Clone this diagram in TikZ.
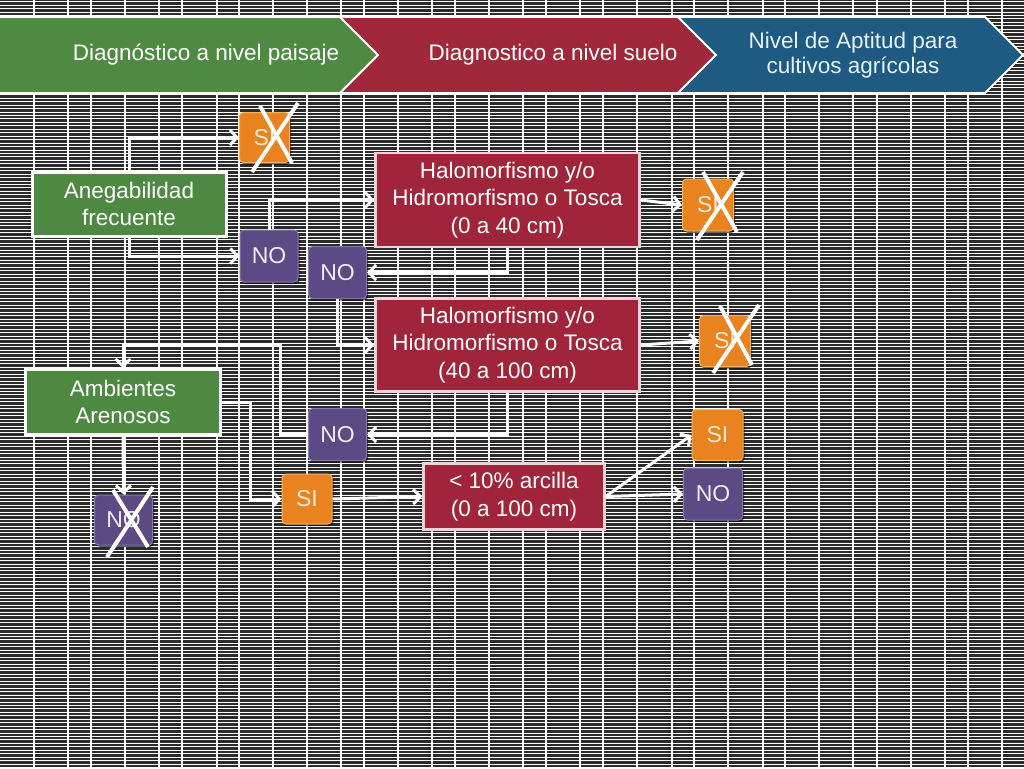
\documentclass[tikz,border=0pt]{standalone}
\usepackage{fontspec}
\setmainfont{Liberation Sans}
\usetikzlibrary{arrows.meta,shadows,calc}
\definecolor{bg}{HTML}{2C2C2C}
\definecolor{hgreen}{HTML}{4F8A43}
\definecolor{hred}{HTML}{A1283A}
\definecolor{hblue}{HTML}{1F5A82}
\definecolor{boxgreen}{HTML}{4E8942}
\definecolor{boxred}{HTML}{A0253A}
\definecolor{redrim}{HTML}{F0D2D8}
\definecolor{orangec}{HTML}{E8831F}
\definecolor{orangerim}{HTML}{F6B35A}
\definecolor{purplec}{HTML}{5C4A85}
\definecolor{purplerim}{HTML}{8A76B2}
\definecolor{sitext}{HTML}{FDEBD6}
\definecolor{notext}{HTML}{F4EAF6}
\definecolor{bluetext}{HTML}{E6F2FF}
\tikzset{
  conn/.style={draw=white, line width=3pt, -{Straight Barb[length=7pt,width=15pt]}},
  bigbox/.style={rectangle, align=center, text=white, inner sep=0pt,
    font=\fontsize{22.5}{27.5}\selectfont},
  greenbox/.style={bigbox, fill=boxgreen, draw=white, line width=3pt},
  redbox/.style={bigbox, fill=boxred, draw=redrim, line width=2.5pt},
  smallbox/.style={rectangle, rounded corners=4pt, inner sep=0pt,
    font=\fontsize{23}{26}\selectfont,
    drop shadow={shadow xshift=1.5pt, shadow yshift=-2pt, fill=black, opacity=0.6}},
  sibox/.style={smallbox, fill=orangec, draw=orangerim, line width=1pt, text=sitext},
  nobox/.style={smallbox, fill=purplec, draw=purplerim, line width=1pt, text=notext},
  crossline/.style={draw=white, line width=4pt},
  chevron/.style={draw=white, line width=2pt},
  htext/.style={align=center, inner sep=0pt, font=\fontsize{22.5}{25.5}\selectfont}
}
\begin{document}
\begin{tikzpicture}[x=1pt,y=-1pt]
\useasboundingbox (0,0) rectangle (1024,768);
% background grid
\fill[bg] (0,0) rectangle (1024,768);
\foreach \yy in {1.6,5.05,...,768} {
  \draw[white, line width=0.85pt] (0,\yy) -- (1024,\yy);
}
\foreach \xx in {34,68,91,125,159,182,217,239,273,307,341,364,398,432,455,489,523,546,580,603,637,672,694,728,763,785,819,853,877,911,945,968,1002} {
  \draw[white, line width=1.3pt] (\xx,0) -- (\xx,768);
}
% header chevrons
\fill[hgreen, chevron] (-2,17) -- (340,17) -- (378,55) -- (340,93) -- (-2,93) -- cycle;
\fill[hred, chevron] (340,17) -- (678,17) -- (716,55) -- (678,93) -- (340,93) -- (378,55) -- cycle;
\fill[hblue, chevron] (678,17) -- (985,17) -- (1023,55) -- (985,93) -- (678,93) -- (716,55) -- cycle;
\node[htext, text=white] (h1) at (206,55) {Diagnóstico a nivel paisaje};
\node[htext, text=white] (h2) at (553,55) {Diagnostico a nivel suelo};
\node[htext, text=bluetext] (h3) at (853,55) {Nivel de Aptitud para\\cultivos agrícolas};
% big boxes
\node[greenbox, minimum width=194pt, minimum height=64pt] (ane) at (129,204) {Anegabilidad\\frecuente};
\node[greenbox, minimum width=195pt, minimum height=65pt] (amb) at (123,402) {Ambientes\\Arenosos};
\node[redbox, minimum width=264pt, minimum height=94pt] (halo1) at (507.5,200) {Halomorfismo y/o\\Hidromorfismo o Tosca\\(0 a 40 cm)};
\node[redbox, minimum width=264pt, minimum height=93pt] (halo2) at (507.5,345) {Halomorfismo y/o\\Hidromorfismo o Tosca\\(40 a 100 cm)};
\node[redbox, minimum width=181pt, minimum height=66pt] (arc) at (514,496.5) {< 10\% arcilla\\(0 a 100 cm)};
% small boxes
\node[sibox, minimum width=50pt, minimum height=50pt] (six1) at (264.5,137.5) {SI};
\node[nobox, minimum width=58pt, minimum height=52pt] (no1) at (269,256) {NO};
\node[nobox, minimum width=58pt, minimum height=52pt] (no2) at (337.5,272.5) {NO};
\node[sibox, minimum width=51pt, minimum height=52pt] (six2) at (708,205) {SI};
\node[sibox, minimum width=51pt, minimum height=51pt] (six3) at (725,341) {SI};
\node[nobox, minimum width=58pt, minimum height=52pt] (no3) at (337.5,434.5) {NO};
\node[sibox, minimum width=50pt, minimum height=50pt] (si4) at (307,499) {SI};
\node[nobox, minimum width=58pt, minimum height=50pt] (nox) at (123.5,520) {NO};
\node[sibox, minimum width=51pt, minimum height=51pt] (si5) at (717.5,435) {SI};
\node[nobox, minimum width=59pt, minimum height=52pt] (no5) at (713,494) {NO};
% connectors
\draw[conn] (ane.north) |- (six1.west);
\draw[conn] (ane.south) |- (no1.west);
\draw[conn] (no1.north) |- (halo1.west);
\draw[conn] (halo1.south) |- (no2.east);
\draw[conn] (halo1.east) -- (six2.west);
\draw[conn] (no2.south) |- (halo2.west);
\draw[conn] (halo2.east) -- (six3.west);
\draw[conn] (halo2.south) |- (no3.east);
\coordinate (k1) at (280,344);
\draw[conn] (no3.west) -| (k1) -| (amb.north);
\coordinate (k2) at (250,499);
\draw[conn] (amb.east) -| (k2) -- (si4.west);
\draw[conn] (amb.south) -- (nox.north);
\draw[conn] (si4.east) -- (arc.west);
\draw[conn] (arc.east) -- (si5.west);
\draw[conn] (arc.east) -- (no5.west);
% crosses
\draw[crossline] (252,172) -- (298,103);
\draw[crossline] (260,106) -- (292,163);
\draw[crossline] (697,240) -- (743,172);
\draw[crossline] (703,172) -- (737,232);
\draw[crossline] (713,373) -- (759,305);
\draw[crossline] (720,306) -- (752,365);
\draw[crossline] (107,557) -- (153,487);
\draw[crossline] (113,490) -- (148,547);
\end{tikzpicture}
\end{document}
